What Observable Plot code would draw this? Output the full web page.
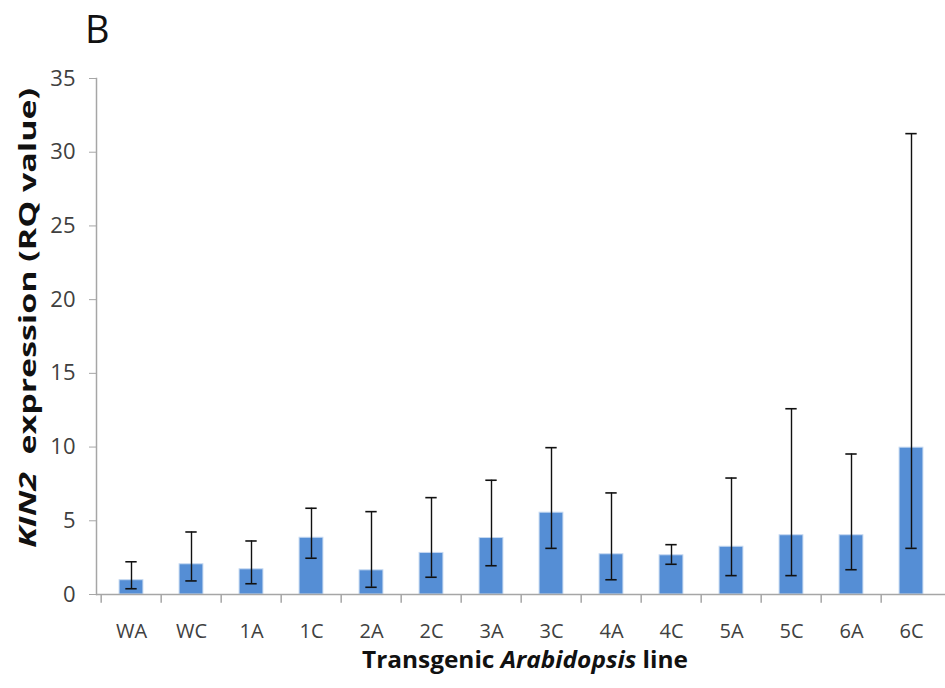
<!DOCTYPE html>
<html>
<head>
<meta charset="utf-8">
<script src="https://cdn.jsdelivr.net/npm/d3@7"></script>
<script src="https://cdn.jsdelivr.net/npm/@observablehq/plot@0.6"></script>
<style>
  html, body { margin: 0; padding: 0; background: #fff; }
  #chart svg { display: block; }
</style>
</head>
<body>
<div id="chart"></div>
<script>
// ---- data ----
const lines   = ["WA", "WC", "1A", "1C", "2A", "2C", "3A", "3C", "4A", "4C", "5A", "5C", "6A", "6C"];
const means   = [0.97, 2.05, 1.71, 3.85, 1.64, 2.82, 3.83, 5.55, 2.73, 2.66, 3.24, 4.02, 4.02, 9.96];
const errLow  = [0.39, 0.92, 0.73, 2.46, 0.49, 1.17, 1.95, 3.13, 1.00, 2.05, 1.28, 1.28, 1.68, 3.13];
const errHigh = [2.22, 4.24, 3.63, 5.85, 5.62, 6.57, 7.75, 9.96, 6.89, 3.38, 7.90, 12.6, 9.53, 31.26];
const yTicks  = [0, 5, 10, 15, 20, 25, 30, 35];

const data = lines.map((line, i) => ({line, mean: means[i], lo: errLow[i], hi: errHigh[i]}));

const W = 945, H = 688, mL = 96, mR = 0, mT = 78, mB = 94;
const bw = (W - mL - mR) / lines.length;
const barW = 24.5, capW = 12;
const font = "'Open Sans', 'Liberation Sans', sans-serif";

const chart = Plot.plot({
  width: W, height: H,
  marginLeft: mL, marginRight: mR, marginTop: mT, marginBottom: mB,
  style: {fontFamily: font, background: "#fff", color: "#404040"},
  x: {domain: lines, padding: 0, axis: null},
  y: {domain: [0, 35], axis: null},
  marks: [
    Plot.barY(data, {
      x: "line", y: "mean",
      fill: "#558ed5", stroke: "#c6d9f1", strokeWidth: 1,
      insetLeft: (bw - barW) / 2, insetRight: (bw - barW) / 2
    }),
    // category boundary ticks under the x axis
    Plot.ruleX(lines, {x: d => d, y1: 0, y2: -0.6, dx: -bw / 2, stroke: "#a6a6a6", strokeWidth: 1.5}),
    Plot.ruleY([0], {stroke: "#a6a6a6", strokeWidth: 1.5}),
    Plot.frame({anchor: "left", stroke: "#a6a6a6", strokeWidth: 1.5}),
    Plot.axisY({
      ticks: yTicks, tickSize: 7, tickPadding: 14, fontSize: 22,
      stroke: "#a6a6a6", label: null, tickFormat: d => String(d)
    }),
    Plot.axisX({tickSize: 0, tickPadding: 29, fontSize: 20, label: null}),
    // error bars
    Plot.ruleX(data, {x: "line", y1: "lo", y2: "hi", stroke: "#111", strokeWidth: 1.4}),
    Plot.tickY(data, {x: "line", y: "hi", stroke: "#111", strokeWidth: 1.6,
      insetLeft: (bw - capW) / 2, insetRight: (bw - capW) / 2}),
    Plot.tickY(data, {x: "line", y: "lo", stroke: "#111", strokeWidth: 1.6,
      insetLeft: (bw - capW) / 2, insetRight: (bw - capW) / 2})
  ]
});

document.getElementById("chart").appendChild(chart);

// panel letter and axis titles with mixed italic runs
const svg = d3.select(chart);

svg.append("text")
  .attr("x", 85).attr("y", 43)
  .attr("text-anchor", "start")
  .attr("font-family", font).attr("font-size", 38).attr("fill", "#111")
  .text("B");

const xt = svg.append("text")
  .attr("x", 525).attr("y", 668)
  .attr("text-anchor", "middle")
  .attr("font-family", font).attr("font-size", 24).attr("font-weight", "bold").attr("fill", "#111")
  .attr("textLength", 326).attr("lengthAdjust", "spacingAndGlyphs");
xt.append("tspan").text("Transgenic ");
xt.append("tspan").attr("font-style", "italic").text("Arabidopsis");
xt.append("tspan").text(" line");

const yt = svg.append("text")
  .attr("transform", "translate(36,318) rotate(-90)")
  .attr("text-anchor", "middle")
  .attr("font-family", font).attr("font-size", 24).attr("font-weight", "bold").attr("fill", "#111")
  .attr("textLength", 460).attr("lengthAdjust", "spacingAndGlyphs");
yt.append("tspan").attr("font-style", "italic").text("KIN2");
yt.append("tspan").text("\u00a0 expression (RQ value)");
</script>
</body>
</html>
